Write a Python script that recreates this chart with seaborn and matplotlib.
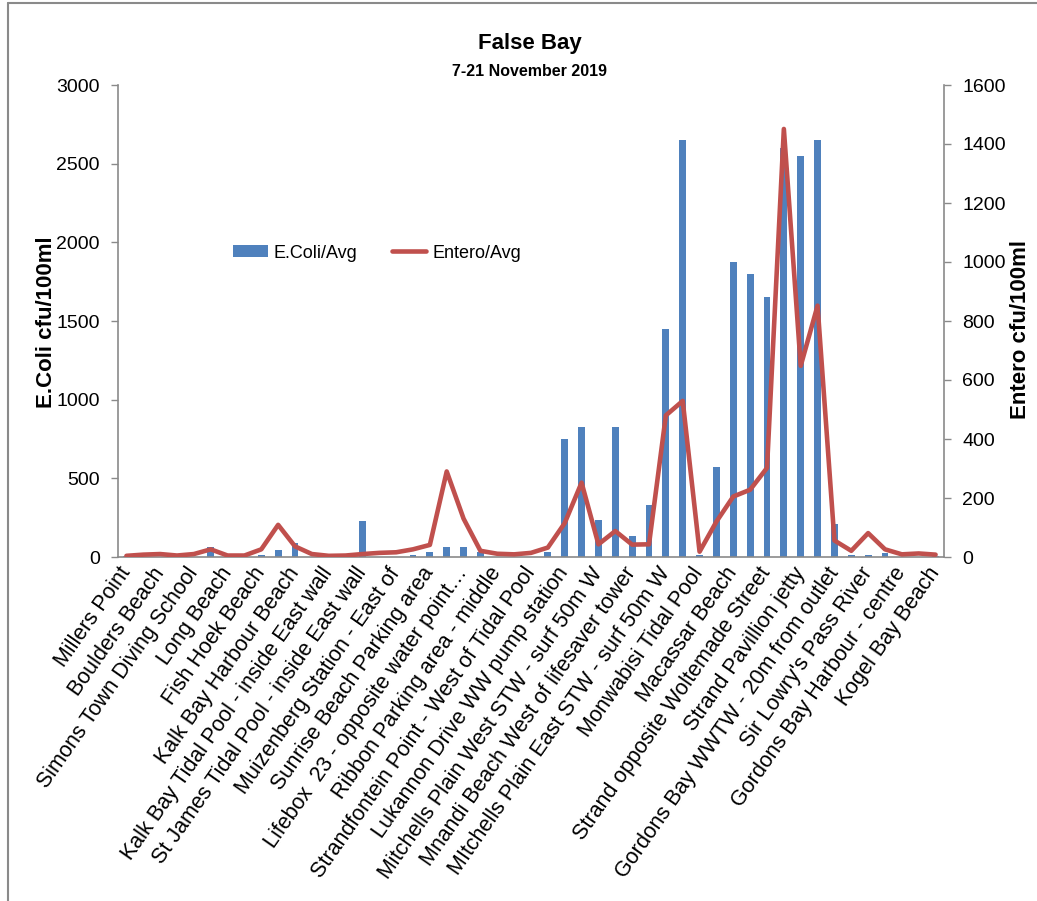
import numpy as np
import pandas as pd
import matplotlib
matplotlib.use("Agg")
import matplotlib.pyplot as plt
import seaborn as sns
from matplotlib.patches import Patch
from matplotlib.lines import Line2D

# Sampling sites (every second sample point carries a label on the axis)
site_labels = [
    "Millers Point",
    "Boulders Beach",
    "Simons Town Diving School",
    "Long Beach",
    "Fish Hoek Beach",
    "Kalk Bay Harbour Beach",
    "Kalk Bay Tidal Pool - inside East wall",
    "St James Tidal Pool - inside East wall",
    "Muizenberg Station - East of",
    "Sunrise Beach Parking area",
    "Lifebox  23 - opposite water point\u2026",
    "Ribbon Parking area - middle",
    "Strandfontein Point - West of Tidal Pool",
    "Lukannon Drive WW pump station",
    "Mitchells Plain West STW - surf 50m W",
    "Mnandi Beach West of lifesaver tower",
    "MItchells Plain East STW - surf 50m W",
    "Monwabisi Tidal Pool",
    "Macassar Beach",
    "Strand opposite Woltemade Street",
    "Strand Pavillion jetty",
    "Gordons Bay WWTW - 20m from outlet",
    "Sir Lowry's Pass River",
    "Gordons Bay Harbour - centre",
    "Kogel Bay Beach",
]

# Average E.coli (cfu/100ml) per sample point
ecoli_avg = [
    4, 0, 0, 0, 0, 66, 0, 0, 12, 43,
    90, 0, 0, 0, 228, 0, 0, 12, 30, 66,
    66, 30, 0, 0, 0, 30, 750, 825, 232, 825,
    132, 330, 1450, 2650, 15, 570, 1875, 1800, 1655, 2600,
    2550, 2650, 210, 12, 12, 25, 0, 0, 4,
]

# Average Enterococci (cfu/100ml) per sample point
entero_avg = [
    4, 8, 10, 5, 10, 26, 5, 5, 26, 109,
    36, 10, 4, 5, 10, 14, 16, 26, 41, 290,
    130, 21, 11, 9, 14, 32, 115, 252, 43, 88,
    42, 43, 480, 529, 18, 120, 205, 228, 302, 1451,
    648, 852, 56, 21, 81, 26, 9, 12, 8,
]

BLUE = "#4F81BD"
RED = "#C0504D"
AXIS_GREY = "#8A8A8A"

sns.set_theme(style="white")
plt.rcParams["font.family"] = ["Liberation Sans", "DejaVu Sans"]
plt.rcParams["text.color"] = "black"
plt.rcParams["axes.labelcolor"] = "black"
plt.rcParams["xtick.color"] = "black"
plt.rcParams["ytick.color"] = "black"

sample = np.arange(len(ecoli_avg))
df = pd.DataFrame({"sample": sample, "ecoli": ecoli_avg, "entero": entero_avg})

W, H = 1037, 901
fig = plt.figure(figsize=(W / 100, H / 100), dpi=100)
ax = fig.add_axes([118 / W, 1 - 557 / H, (944 - 118) / W, (557 - 85) / H])

# E.coli bars on the primary axis
sns.barplot(data=df, x="sample", y="ecoli", native_scale=True, width=0.4,
            color=BLUE, saturation=1, errorbar=None, linewidth=0, ax=ax)
ax.set_xlim(-0.5, len(sample) - 0.5)
ax.set_ylim(0, 3000)
ax.set_yticks(np.arange(0, 3001, 500))
ax.set_xticks(sample[::2])
ax.set_xticklabels(site_labels, rotation=55, ha="right", va="center",
                   rotation_mode="anchor", fontsize=15.5)
ax.tick_params(axis="x", length=0, pad=9)
ax.tick_params(axis="y", left=True, direction="out", length=5, width=1,
               color=AXIS_GREY, labelcolor="black", labelsize=14, pad=8)
ax.set_xlabel("")
ax.set_ylabel("E.Coli cfu/100ml", fontsize=16, fontweight="bold")
ax.yaxis.set_label_coords(-0.074, 0.498)

# Enterococci line on the secondary axis
ax2 = ax.twinx()
sns.lineplot(data=df, x="sample", y="entero", color=RED, linewidth=3.3,
             ax=ax2, solid_joinstyle="round", solid_capstyle="round")
ax2.set_ylim(0, 1600)
ax2.set_yticks(np.arange(0, 1601, 200))
ax2.tick_params(axis="y", right=True, direction="out", length=5, width=1,
                color=AXIS_GREY, labelcolor="black", labelsize=14, pad=8)
ax2.set_ylabel("Entero cfu/100ml", fontsize=16, fontweight="bold", rotation=90)
ax2.yaxis.set_label_coords(1.08, 0.481)
ax2.set_xlim(-0.5, len(sample) - 0.5)

for a in (ax, ax2):
    a.spines["top"].set_visible(False)
    for s in ("left", "right", "bottom"):
        a.spines[s].set_color(AXIS_GREY)
        a.spines[s].set_linewidth(1.2)
ax.spines["right"].set_visible(False)
ax2.spines["left"].set_visible(False)
ax2.spines["bottom"].set_visible(False)
ax.grid(False)
ax2.grid(False)

handles = [Patch(facecolor=BLUE, edgecolor="none"),
           Line2D([], [], color=RED, linewidth=3.3)]
ax2.legend(handles, ["E.Coli/Avg", "Entero/Avg"], ncol=2, frameon=False,
           loc="center left", bbox_to_anchor=(0.12, 0.644), fontsize=13,
           handlelength=1.9, handleheight=0.6, handletextpad=0.35,
           columnspacing=1.9)

fig.text(530 / W, 1 - 43 / H, "False Bay", ha="center", va="center",
         fontsize=16, fontweight="bold")
fig.text(530 / W, 1 - 72 / H, "7-21 November 2019", ha="center", va="center",
         fontsize=11.5, fontweight="bold")

# Chart-area frame along the top and left edges
fig.add_artist(Line2D([8 / W, 8 / W], [0, 1 - 3 / H], transform=fig.transFigure,
                      color=AXIS_GREY, linewidth=1.5))
fig.add_artist(Line2D([8 / W, 1], [1 - 3 / H, 1 - 3 / H], transform=fig.transFigure,
                      color=AXIS_GREY, linewidth=1.5))

fig.savefig("out.png", dpi=100, facecolor="white")
